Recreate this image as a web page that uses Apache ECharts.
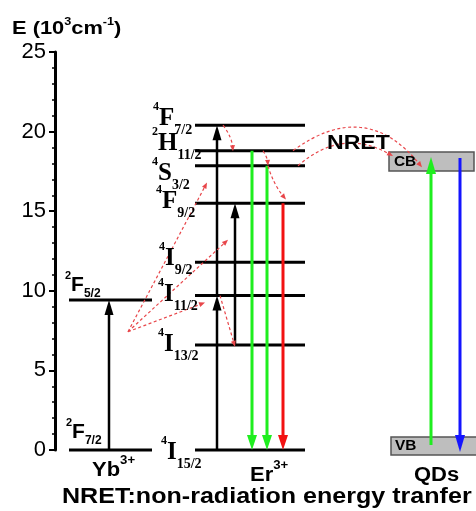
<!DOCTYPE html>
<html><head><meta charset="utf-8">
<script src="https://cdn.jsdelivr.net/npm/echarts@6/dist/echarts.min.js"></script>
<style>html,body{margin:0;padding:0;background:#fff}#c{width:476px;height:511px}</style>
</head><body><div id="c"></div>
<script>
// ---------------- data (energies in 10^3 cm^-1) ----------------
const yTickValues = [0, 5, 10, 15, 20, 25];
const ybLevels = [0, 9.42];
const ybLevelNames = [['2', 'F', '7/2'], ['2', 'F', '5/2']];
const erLevels = [0, 6.6, 9.7, 11.8, 15.5, 17.85, 18.8, 20.4];
const erLevelNames = [['4', 'I', '15/2'], ['4', 'I', '13/2'], ['4', 'I', '11/2'], ['4', 'I', '9/2'],
                      ['4', 'F', '9/2'], ['4', 'S', '3/2'], ['2', 'H', '11/2'], ['4', 'F', '7/2']];
const cbBand = [17.53, 18.72];
const vbBand = [-0.31, 0.82];
const ybPump = [[0, 9.42]];
const erPump = [[0, 9.7], [9.7, 20.4], [6.6, 15.5]];
const erEmission = [[18.8, 0], [17.85, 0], [15.5, 0]];
const qdTransitions = [[0.31, 18.4], [18.34, -0.13]];
const ybTransfer = [[7.43, 16.8], [7.43, 13.2], [7.43, 9.26]];
const erRelax = [[20.4, 18.77], [18.8, 17.85], [17.85, 15.74], [9.7, 6.49]];
const nretTransfer = [[18.8, 17.76], [17.85, 18.46]];
const ionNames = [['Yb', '3+'], ['Er', '3+'], ['QDs', '']];
const caption = 'NRET:non-radiation energy tranfer';

// ---------------- layout / style (pixel columns) ----------------
const GREEN = '#1fee1f', RED = '#f21212', BLUE = '#1414ff', DASH = '#e8464a';
const LAY = {
  ybSpan: [69, 152], erSpan: [195, 305], cbSpan: [389, 474], vbSpan: [391, 479],
  ybPumpX: [109], erPumpX: [217, 217, 235],
  emitX: [252, 267, 283], emitColor: [GREEN, GREEN, RED],
  qdX: [431, 460], qdColor: [GREEN, BLUE],
  ybTransferX: [[128, 207], [128, 228], [128, 205]],
  erRelaxX: [[223, 233], [263, 268], [268, 286], [220, 235]], erRelaxBend: [2, 1, -2, 0],
  nretX: [[293, 422], [298, 393]], nretBend: [31, 17],
  erLabelPos: [[161, 453], [158, 345], [158, 295], [159, 259], [156, 202], [152, 174], [152, 144], [153, 119]],
  ybLabelPos: [[66, 432], [65, 285]],
  ionPos: [[92, 470], [250, 475], [414, 475]]
};
const SANS = '"Liberation Sans", Arial, sans-serif';
const SERIF = '"Liberation Serif", "Times New Roman", serif';

// ---------------- render helpers ----------------
function renderLevel(params, api) {
  const a = api.coord([api.value(0), api.value(2)]);
  const b = api.coord([api.value(1), api.value(2)]);
  return { type: 'line', shape: { x1: a[0], y1: a[1], x2: b[0], y2: b[1] },
           style: { stroke: '#000', lineWidth: 3 } };
}
function renderBand(params, api) {
  const a = api.coord([api.value(0), api.value(3)]);
  const b = api.coord([api.value(1), api.value(2)]);
  return { type: 'rect', shape: { x: a[0], y: a[1], width: b[0] - a[0], height: b[1] - a[1] },
           style: { fill: '#bebebe', stroke: '#555', lineWidth: 1.5 } };
}
function makeArrowRender(opt) {
  return function (params, api) {
    const p0 = api.coord([api.value(0), api.value(1)]);
    const p1 = api.coord([api.value(2), api.value(3)]);
    const bend = api.value(4) || 0;
    const color = api.visual('color');
    const dx = p1[0] - p0[0], dy = p1[1] - p0[1];
    const len = Math.hypot(dx, dy) || 1;
    const nx = dy / len, ny = -dx / len;
    const c = [(p0[0] + p1[0]) / 2 + nx * bend * 2, (p0[1] + p1[1]) / 2 + ny * bend * 2];
    let tx = p1[0] - c[0], ty = p1[1] - c[1];
    const tl = Math.hypot(tx, ty) || 1; tx /= tl; ty /= tl;
    const hl = opt.head[0], hw = opt.head[1];
    const bx = p1[0] - tx * hl, by = p1[1] - ty * hl;
    const ex = bx + tx * hl * 0.3, ey = by + ty * hl * 0.3;
    const ls = { stroke: color, lineWidth: opt.width, lineDash: opt.dash || null, fill: null };
    const children = [];
    if (bend) children.push({ type: 'bezierCurve', shape: { x1: p0[0], y1: p0[1], x2: ex, y2: ey, cpx1: c[0], cpy1: c[1] }, style: ls });
    else children.push({ type: 'line', shape: { x1: p0[0], y1: p0[1], x2: ex, y2: ey }, style: ls });
    children.push({ type: 'polygon', shape: { points: [[p1[0], p1[1]], [bx - ty * hw / 2, by + tx * hw / 2], [bx + ty * hw / 2, by - tx * hw / 2]] },
                    style: { fill: color } });
    return { type: 'group', children };
  };
}

// ---------------- build series data ----------------
const levelData = [];
ybLevels.forEach(e => levelData.push([LAY.ybSpan[0], LAY.ybSpan[1], e]));
erLevels.forEach(e => levelData.push([LAY.erSpan[0], LAY.erSpan[1], e]));
const bandData = [[LAY.cbSpan[0], LAY.cbSpan[1], cbBand[0], cbBand[1]],
                  [LAY.vbSpan[0], LAY.vbSpan[1], vbBand[0], vbBand[1]]];
const pumpData = [];
ybPump.forEach((t, i) => pumpData.push([LAY.ybPumpX[i], t[0], LAY.ybPumpX[i], t[1], 0]));
erPump.forEach((t, i) => pumpData.push([LAY.erPumpX[i], t[0], LAY.erPumpX[i], t[1], 0]));
const emitData = erEmission.map((t, i) => ({ value: [LAY.emitX[i], t[0], LAY.emitX[i], t[1], 0], itemStyle: { color: LAY.emitColor[i] } }));
const qdData = qdTransitions.map((t, i) => ({ value: [LAY.qdX[i], t[0], LAY.qdX[i], t[1], 0], itemStyle: { color: LAY.qdColor[i] } }));
const dashData = [];
ybTransfer.forEach((t, i) => dashData.push([LAY.ybTransferX[i][0], t[0], LAY.ybTransferX[i][1], t[1], 0]));
erRelax.forEach((t, i) => dashData.push([LAY.erRelaxX[i][0], t[0], LAY.erRelaxX[i][1], t[1], LAY.erRelaxBend[i]]));
nretTransfer.forEach((t, i) => dashData.push([LAY.nretX[i][0], t[0], LAY.nretX[i][1], t[1], LAY.nretBend[i]]));

// ---------------- text graphics ----------------
function tok(size, family, va, lh) {
  return { fontSize: size, fontFamily: family, fontWeight: 'bold', fill: '#000', verticalAlign: va, lineHeight: lh };
}
const erRich = { p: tok(12, SERIF, 'top', 18), m: tok(25, SERIF, 'middle', 36), b: tok(14, SERIF, 'bottom', 10) };
const ybRich = { p: tok(11, SANS, 'top', 10), m: tok(21, SANS, 'middle', 30), b: tok(12, SANS, 'bottom', 6) };
const ionRich = { m: tok(20, SANS, 'middle', 30), p: tok(12, SANS, 'top', 10) };
const titleRich = { m: tok(19, SANS, 'middle', 26), p: tok(11, SANS, 'top', 10) };
function textEl(x, y, text, rich, extra) {
  return Object.assign({ type: 'text', x: x, y: y, z: 100,
    style: { text: text, rich: rich, fill: '#000', align: 'left', verticalAlign: 'middle', textAlign: 'left', textVerticalAlign: 'middle' } }, extra || {});
}
const graphics = [];
erLevelNames.forEach((n, i) => graphics.push(textEl(LAY.erLabelPos[i][0], LAY.erLabelPos[i][1], `{p|${n[0]}}{m|${n[1]}}{b|${n[2]}}`, erRich)));
ybLevelNames.forEach((n, i) => graphics.push(textEl(LAY.ybLabelPos[i][0], LAY.ybLabelPos[i][1], `{p|${n[0]}}{m|${n[1]}}{b|${n[2]}}`, ybRich)));
ionNames.forEach((n, i) => graphics.push(textEl(LAY.ionPos[i][0], LAY.ionPos[i][1], n[1] ? `{m|${n[0]}}{p|${n[1]}}` : `{m|${n[0]}}`, ionRich, { scaleX: 1.1 })));
graphics.push(textEl(12, 29, '{m|E (10}{p|3}{m|cm}{p|-1}{m|)}', titleRich, { scaleX: 1.15 }));
graphics.push(textEl(62, 497, `{m|${caption}}`, { m: tok(22, SANS, 'middle', 28) }, { scaleX: 1.14 }));
graphics.push(textEl(327, 143, '{m|NRET}', { m: tok(21, SANS, 'middle', 26) }, { scaleX: 1.1 }));
graphics.push(textEl(394, 162, '{m|CB}', { m: tok(14, SANS, 'middle', 18) }, { scaleX: 1.1 }));
graphics.push(textEl(395, 446, '{m|VB}', { m: tok(14, SANS, 'middle', 18) }, { scaleX: 1.1 }));

// ---------------- chart ----------------
const chart = echarts.init(document.getElementById('c'), null, { renderer: 'canvas' });
chart.setOption({
  animation: false,
  backgroundColor: '#fff',
  grid: { left: 55, right: 0, top: 52, bottom: 61, containLabel: false },
  xAxis: { type: 'value', min: 55, max: 476, show: false },
  yAxis: {
    type: 'value', min: yTickValues[0], max: yTickValues[yTickValues.length - 1], interval: 5,
    axisLine: { show: true, lineStyle: { color: '#000', width: 3 } },
    axisTick: { show: true, length: 6, lineStyle: { color: '#000', width: 2 } },
    minorTick: { show: true, splitNumber: 5, length: 3, lineStyle: { color: '#000', width: 1.5 } },
    splitLine: { show: false },
    axisLabel: { color: '#000', fontSize: 22, fontFamily: SANS, margin: 9 }
  },
  series: [
    { type: 'custom', name: 'bands', renderItem: renderBand, data: bandData, z: 2 },
    { type: 'custom', name: 'levels', renderItem: renderLevel, data: levelData, z: 3 },
    { type: 'custom', name: 'pump', renderItem: makeArrowRender({ width: 2.5, head: [15, 9] }), data: pumpData, itemStyle: { color: '#000' }, z: 4 },
    { type: 'custom', name: 'emission', renderItem: makeArrowRender({ width: 3, head: [15, 10] }), data: emitData, z: 4 },
    { type: 'custom', name: 'qd', renderItem: makeArrowRender({ width: 3, head: [17, 10] }), data: qdData, z: 4 },
    { type: 'custom', name: 'transfer', renderItem: makeArrowRender({ width: 1.2, dash: [3, 2.5], head: [6, 5] }), data: dashData, itemStyle: { color: DASH }, z: 5 }
  ],
  graphic: graphics
});
</script></body></html>
